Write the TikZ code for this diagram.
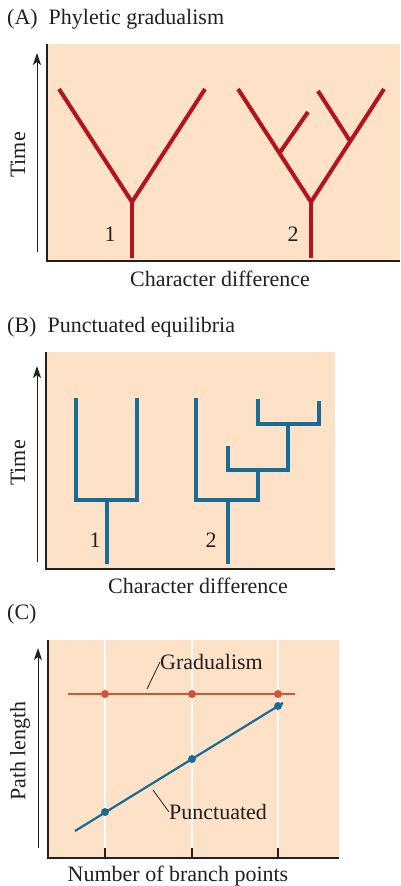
\documentclass[tikz,border=0pt]{standalone}
\usepackage{fontspec}
\setmainfont{Liberation Serif}
\usetikzlibrary{arrows.meta,positioning}

\definecolor{peach}{RGB}{253,226,200}
\definecolor{treered}{RGB}{181,18,27}
\definecolor{treeblue}{RGB}{24,108,150}
\definecolor{gradred}{RGB}{208,83,58}
\definecolor{inkgray}{RGB}{35,31,32}

\begin{document}
\begin{tikzpicture}[x=1pt, y=-1pt,
    panel/.style={fill=peach, draw=none},
    axisline/.style={inkgray, line width=1.3pt},
    timearrow/.style={-{Stealth[length=12pt,width=8pt,inset=3pt]}, inkgray, line width=1pt},
    redbranch/.style={treered, line width=4pt},
    bluebranch/.style={treeblue, line width=4pt, line join=miter},
    txt/.style={font=\fontsize{22}{26}\selectfont, text=inkgray, inner sep=0pt},
    gridline/.style={white, line width=1.2pt},
    tick/.style={inkgray, line width=1.2pt},
    dot/.style={circle, fill=#1, inner sep=0pt, minimum size=8pt},
    leader/.style={inkgray, line width=0.8pt}
]
\useasboundingbox (0,0) rectangle (400,886);

% (A) Phyletic gradualism
\node[txt, anchor=west] (titleA) at (7,19) {(A)\ \ Phyletic gradualism};
\fill[panel] (47,44) rectangle (400,261);
\draw[axisline] (47,44) -- (47,261) -- (400,261);
\coordinate (arrA0) at (37,252);
\coordinate (arrA1) at (37,53);
\draw[timearrow] (arrA0) -- (arrA1);
\node[txt, rotate=90] (timeA) at (18,155) {Time};
\node[txt] (charA) at (220,279) {Character difference};

\coordinate (a1root) at (132,258);
\coordinate (a1fork) at (132,202);
\coordinate (a1left) at (59,89);
\coordinate (a1right) at (205,89);
\draw[redbranch] (a1root) -- (a1fork);
\draw[redbranch] (a1left) -- (a1fork) -- (a1right);
\node[txt] (numA1) at (110,234) {1};

\coordinate (a2root) at (311,258);
\coordinate (a2fork) at (311,202);
\coordinate (a2left) at (238,89);
\coordinate (a2right) at (384,89);
\coordinate (a2subL) at (279.5,153);
\coordinate (a2tipL) at (308,112);
\coordinate (a2subR) at (350,141);
\coordinate (a2tipR) at (318,91);
\draw[redbranch] (a2root) -- (a2fork);
\draw[redbranch] (a2left) -- (a2fork) -- (a2right);
\draw[redbranch] (a2subL) -- (a2tipL);
\draw[redbranch] (a2subR) -- (a2tipR);
\node[txt] (numA2) at (293,234) {2};

% (B) Punctuated equilibria
\node[txt, anchor=west] (titleB) at (7,327) {(B)\ \ Punctuated equilibria};
\fill[panel] (46,352) rectangle (335,569);
\draw[axisline] (46,352) -- (46,569) -- (335,569);
\coordinate (arrB0) at (37,562);
\coordinate (arrB1) at (37,366);
\draw[timearrow] (arrB0) -- (arrB1);
\node[txt, rotate=90] (timeB) at (18,463) {Time};
\node[txt] (charB) at (198,586) {Character difference};

\coordinate (b1root) at (107,564);
\coordinate (b1fork) at (107,500);
\draw[bluebranch] (b1root) -- (b1fork);
\draw[bluebranch] (76,398) -- (76,500) -- (137,500) -- (137,398);
\node[txt] (numB1) at (95,540) {1};

\coordinate (b2root) at (228,564);
\coordinate (b2fork) at (228,500);
\draw[bluebranch] (b2root) -- (b2fork);
\draw[bluebranch] (196,398) -- (196,500) -- (258,500) -- (258,470);
\draw[bluebranch] (228,446) -- (228,470) -- (288,470) -- (288,424);
\draw[bluebranch] (258,399) -- (258,424) -- (319,424) -- (319,401);
\node[txt] (numB2) at (211,540) {2};

% (C)
\node[txt, anchor=west] (titleC) at (7,614) {(C)};
\fill[panel] (48,640) rectangle (339,858);
\foreach \gx/\gn in {105/g1, 192/g2, 278/g3} {
  \coordinate (\gn top) at (\gx,640);
  \coordinate (\gn low) at (\gx,848);
  \coordinate (\gn base) at (\gx,858);
  \draw[gridline] (\gn top) -- (\gn low);
  \draw[tick] (\gn low) -- (\gn base);
}
\draw[axisline] (48,640) -- (48,858) -- (339,858);
\coordinate (arrC0) at (38,848);
\coordinate (arrC1) at (38,648);
\draw[timearrow] (arrC0) -- (arrC1);
\node[txt, rotate=90] (pathC) at (20,751) {Path length};
\node[txt] (branchC) at (178,876) {Number of branch points};

% gradualism
\coordinate (gradL) at (68,694);
\coordinate (gradR) at (295,694);
\draw[gradred, line width=2.2pt] (gradL) -- (gradR);
\foreach \gx/\gn in {105/gd1, 192/gd2, 278/gd3}
  \node[dot=gradred] (\gn) at (\gx,694) {};
\node[txt, anchor=west] (gradlbl) at (160,662) {Gradualism};
\coordinate (gradtick) at (147,689);
\draw[leader] (gradtick) -- (gradlbl.west);

% punctuated
\coordinate (punL) at (75,831);
\coordinate (punR) at (283,703);
\draw[treeblue, line width=2.2pt] (punL) -- (punR);
\node[dot=treeblue] (pd1) at (105,812) {};
\node[dot=treeblue] (pd2) at (192,759) {};
\node[dot=treeblue] (pd3) at (278,706) {};
\node[txt, anchor=west] (punlbl) at (169,812) {Punctuated};
\coordinate (puntick) at (153,790);
\draw[leader] (puntick) -- (punlbl.west);
\end{tikzpicture}
\end{document}
